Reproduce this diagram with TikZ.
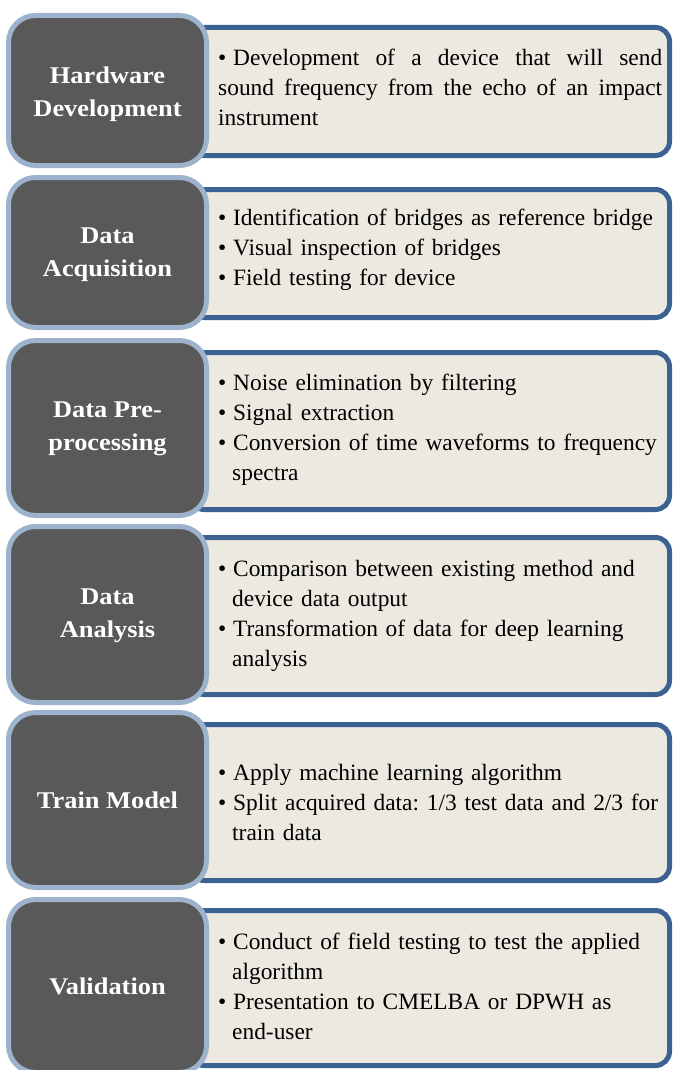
\documentclass[tikz,border=0pt]{standalone}
\usepackage{fontspec}
\setmainfont{Liberation Serif}
\newfontfamily\labfont[FakeStretch=1.1]{Liberation Serif}
\definecolor{lfill}{RGB}{89,89,89}
\definecolor{lbord}{RGB}{157,178,204}
\definecolor{rbord}{RGB}{60,98,146}
\definecolor{rfill}{RGB}{236,233,225}
\newcommand{\bitem}[1]{\noindent\hangindent=14pt\hangafter=1\makebox[15pt][l]{\textbullet}#1\par}
\newcommand{\nl}{\hfil\break}
\begin{document}
\frenchspacing
\begin{tikzpicture}[x=1pt,y=-1pt,
  leftbox/.style={draw=lbord, fill=lfill, line width=5pt, rounded corners=27pt,
    minimum width=198pt, inner sep=0pt, outer sep=0pt},
  label/.style={text=white, font=\labfont\bfseries\fontsize{24}{33}\selectfont, align=center},
  rightbox/.style={draw=rbord, fill=rfill, line width=5pt, rounded corners=14pt,
    minimum width=479.5pt, inner sep=0pt, outer sep=0pt},
  body/.style={anchor=west, text width=470pt, inner sep=0pt,
    font=\frenchspacing\fontsize{23.4}{30}\selectfont, align=left},
  bodyj/.style={anchor=west, text width=444pt, inner sep=0pt,
    font=\frenchspacing\fontsize{23.4}{30}\selectfont, align=justify}]
\useasboundingbox (0,0) rectangle (673,1070);
\clip (0,0) rectangle (673,1070);

% Row 1
\node[rightbox, minimum height=128pt] (r1) at (429.75,91.5) {};
\node[leftbox, minimum height=150pt] (l1) at (107.5,90.5) {};
\node[label] (h1) at (107.5,94) {Hardware\\Development};
\node[bodyj] (t1) at (218,87) {\noindent\makebox[15pt][l]{\textbullet}Development of a device that will send\linebreak sound frequency from the echo of an impact\linebreak instrument};

% Row 2
\node[rightbox, minimum height=128pt] (r2) at (429.75,253.5) {};
\node[leftbox, minimum height=150pt] (l2) at (107.5,252.5) {};
\node[label] (h2) at (107.5,255) {Data\\Acquisition};
\node[body] (t2) at (218,250) {\bitem{Identification of bridges as reference bridge}\bitem{Visual inspection of bridges}\bitem{Field testing for device}};

% Row 3
\node[rightbox, minimum height=157pt] (r3) at (429.75,431) {};
\node[leftbox, minimum height=175pt] (l3) at (107.5,428) {};
\node[label] (h3) at (107.5,429) {Data Pre-\\processing};
\node[body] (t3) at (218,430) {\bitem{Noise elimination by filtering}\bitem{Signal extraction}\bitem{Conversion of time waveforms to frequency\nl spectra}};

% Row 4
\node[rightbox, minimum height=157pt] (r4) at (429.75,616) {};
\node[leftbox, minimum height=176pt] (l4) at (107.5,614.5) {};
\node[label] (h4) at (107.5,616) {Data\\Analysis};
\node[body] (t4) at (218,616) {\bitem{Comparison between existing method and\nl device data output}\bitem{Transformation of data for deep learning\nl analysis}};

% Row 5
\node[rightbox, minimum height=156pt] (r5) at (429.75,802.5) {};
\node[leftbox, minimum height=175pt] (l5) at (107.5,800) {};
\node[label] (h5) at (107.5,800) {Train Model};
\node[body] (t5) at (218,802) {\bitem{Apply machine learning algorithm}\bitem{Split acquired data: 1/3 test data and 2/3 for\nl train data}};

% Row 6
\node[rightbox, minimum height=155pt] (r6) at (429.75,988) {};
\node[leftbox, minimum height=173pt] (l6) at (107.5,986) {};
\node[label] (h6) at (107.5,986) {Validation};
\node[body] (t6) at (218,986) {\bitem{Conduct of field testing to test the applied\nl algorithm}\bitem{Presentation to CMELBA or DPWH as\nl end-user}};
\end{tikzpicture}
\end{document}
